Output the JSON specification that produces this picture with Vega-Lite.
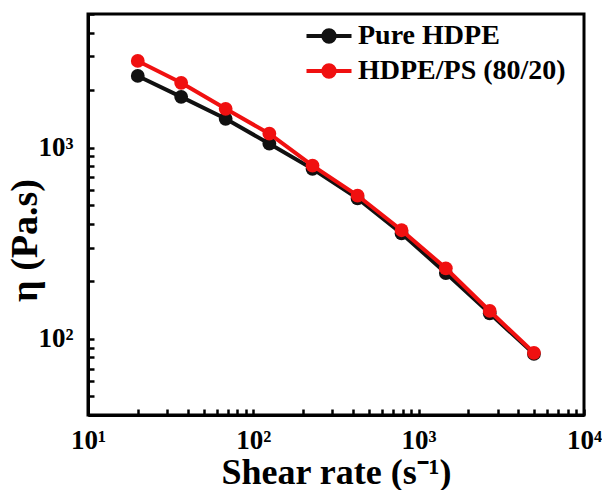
{
  "$schema": "https://vega.github.io/schema/vega-lite/v6.json",
  "autosize": "none",
  "width": 496,
  "height": 401,
  "padding": {"left": 88, "top": 14, "right": 18, "bottom": 75},
  "background": "white",
  "config": {
    "view": {"stroke": "black", "strokeWidth": 3},
    "font": "Liberation Serif"
  },
  "data": {
    "values": [
      {"rate": 20, "eta": 2371, "sample": "Pure HDPE"},
      {"rate": 36.6, "eta": 1844, "sample": "Pure HDPE"},
      {"rate": 68, "eta": 1416, "sample": "Pure HDPE"},
      {"rate": 125, "eta": 1049, "sample": "Pure HDPE"},
      {"rate": 228, "eta": 775, "sample": "Pure HDPE"},
      {"rate": 427, "eta": 543, "sample": "Pure HDPE"},
      {"rate": 788, "eta": 356, "sample": "Pure HDPE"},
      {"rate": 1460, "eta": 221, "sample": "Pure HDPE"},
      {"rate": 2690, "eta": 136, "sample": "Pure HDPE"},
      {"rate": 4980, "eta": 83.5, "sample": "Pure HDPE"},
      {"rate": 20, "eta": 2840, "sample": "HDPE/PS (80/20)"},
      {"rate": 36.6, "eta": 2183, "sample": "HDPE/PS (80/20)"},
      {"rate": 68, "eta": 1597, "sample": "HDPE/PS (80/20)"},
      {"rate": 125, "eta": 1183, "sample": "HDPE/PS (80/20)"},
      {"rate": 228, "eta": 806, "sample": "HDPE/PS (80/20)"},
      {"rate": 427, "eta": 562, "sample": "HDPE/PS (80/20)"},
      {"rate": 788, "eta": 370, "sample": "HDPE/PS (80/20)"},
      {"rate": 1460, "eta": 234, "sample": "HDPE/PS (80/20)"},
      {"rate": 2690, "eta": 140, "sample": "HDPE/PS (80/20)"},
      {"rate": 4980, "eta": 84.6, "sample": "HDPE/PS (80/20)"}
    ]
  },
  "encoding": {
    "x": {
      "field": "rate", "type": "quantitative",
      "scale": {"type": "log", "domain": [10, 10000], "nice": false},
      "axis": {
        "title": "Shear rate (s⁻¹)",
        "values": [10,20,30,40,50,60,70,80,90,100,200,300,400,500,600,700,800,900,1000,2000,3000,4000,5000,6000,7000,8000,9000,10000],
        "labelExpr": "datum.value==10?'10¹':datum.value==100?'10²':datum.value==1000?'10³':datum.value==10000?'10⁴':''",
        "labelFont": "Liberation Serif", "labelFontWeight": "bold", "labelFontSize": 27, "labelColor": "black",
        "labelPadding": 18, "labelFlush": false, "labelOverlap": false,
        "tickSize": -6,
        "tickWidth": 2.5, "tickColor": "black",
        "domainColor": "black", "domainWidth": 3,
        "grid": false,
        "titleFont": "Liberation Serif", "titleFontWeight": "bold", "titleFontSize": 36, "titleColor": "black", "titlePadding": 2
      }
    },
    "y": {
      "field": "eta", "type": "quantitative",
      "scale": {"type": "log", "domain": [40, 5000], "nice": false},
      "axis": {
        "title": "η  (Pa.s)",
        "values": [40,50,60,70,80,90,100,200,300,400,500,600,700,800,900,1000,2000,3000,4000,5000],
        "labelExpr": "datum.value==100?'10²':datum.value==1000?'10³':''",
        "labelFont": "Liberation Serif", "labelFontWeight": "bold", "labelFontSize": 27, "labelColor": "black",
        "labelPadding": 21, "labelFlush": false, "labelOverlap": false,
        "tickSize": -6,
        "tickWidth": 2.5, "tickColor": "black",
        "domainColor": "black", "domainWidth": 3,
        "grid": false,
        "titleY": 226,
        "titleX": -44,
        "titleFont": "Liberation Serif", "titleFontWeight": "bold", "titleFontSize": 38, "titleColor": "black"
      }
    },
    "color": {
      "field": "sample", "type": "nominal",
      "scale": {"domain": ["Pure HDPE", "HDPE/PS (80/20)"], "range": ["#111111", "#f01010"]},
      "legend": {
        "title": null,
        "orient": "none", "legendX": 224, "legendY": 5,
        "symbolType": "M-1.5,0H1.5M-0.38,0A0.38,0.38,0,1,1,0.38,0A0.38,0.38,0,1,1,-0.38,0Z",
        "symbolSize": 900, "symbolStrokeWidth": 4,
        "labelFont": "Liberation Serif", "labelFontWeight": "bold", "labelFontSize": 28, "labelColor": "black",
        "labelLimit": 0,
        "labelOffset": 12, "rowPadding": 4,
        "encode": {"symbols": {"update": {"fill": {"scale": "color", "field": "value"}, "stroke": {"scale": "color", "field": "value"}, "opacity": {"value": 1}}}}
      }
    }
  },
  "layer": [
    {"transform": [{"filter": "datum.sample=='Pure HDPE'"}], "mark": {"type": "line", "strokeWidth": 4}},
    {"transform": [{"filter": "datum.sample=='Pure HDPE'"}], "mark": {"type": "point", "filled": true, "size": 190, "opacity": 1}},
    {"transform": [{"filter": "datum.sample=='HDPE/PS (80/20)'"}], "mark": {"type": "line", "strokeWidth": 4}},
    {"transform": [{"filter": "datum.sample=='HDPE/PS (80/20)'"}], "mark": {"type": "point", "filled": true, "size": 190, "opacity": 1}}
  ]
}
